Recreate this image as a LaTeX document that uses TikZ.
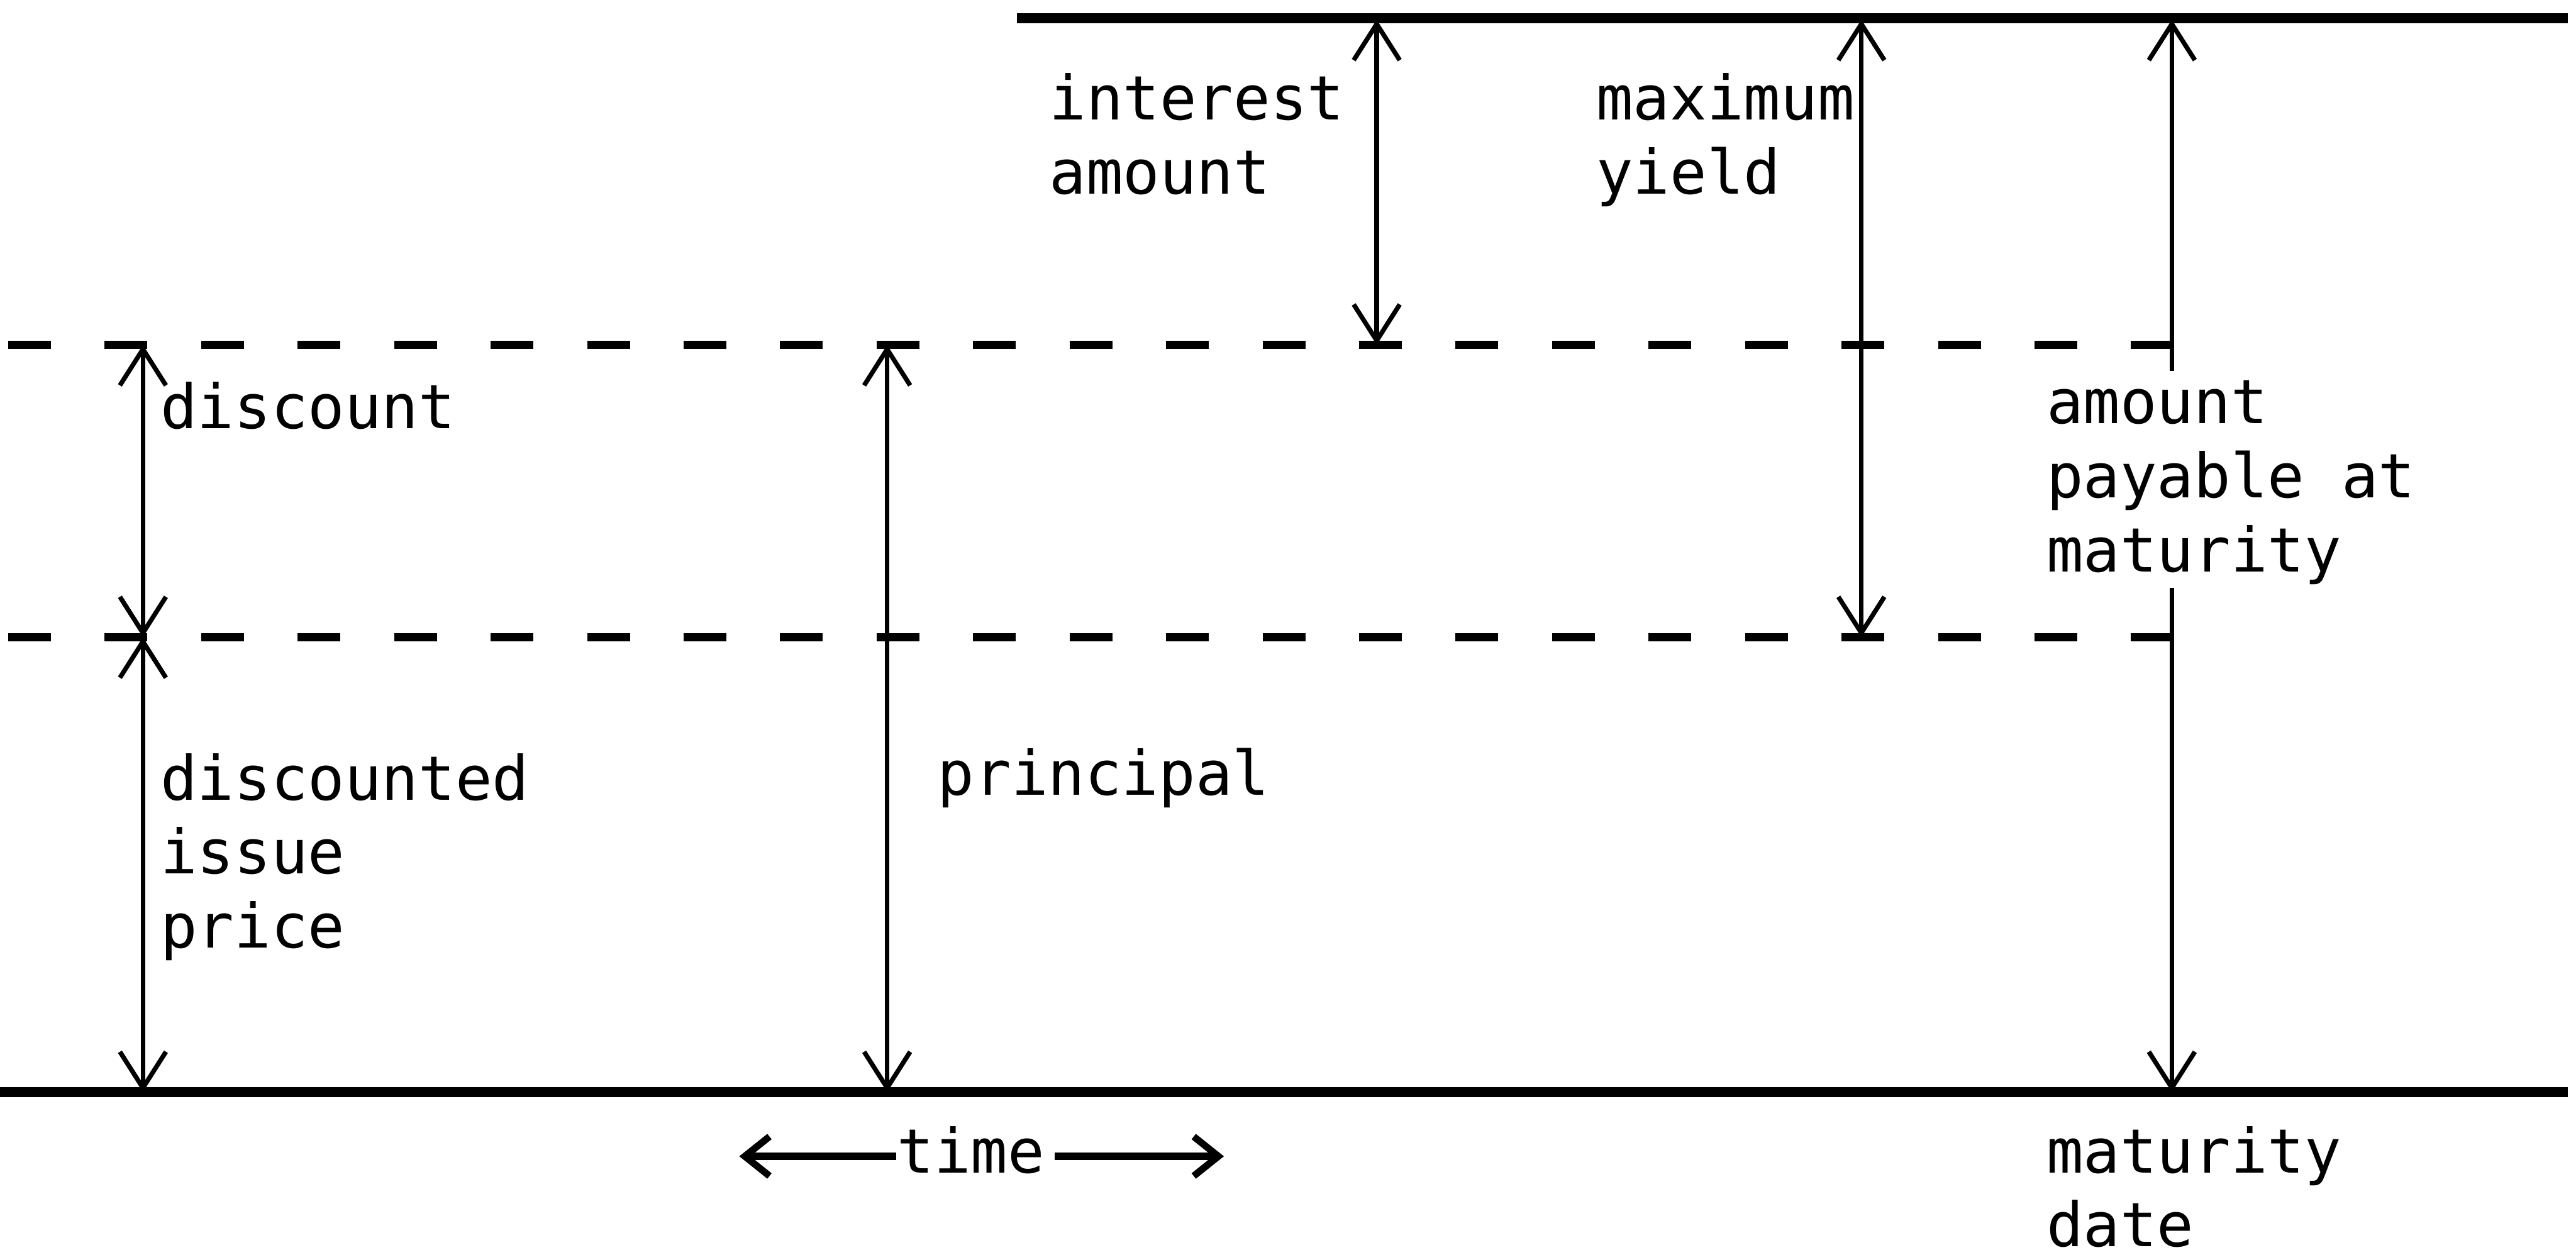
\documentclass[tikz,border=0pt]{standalone}
\usepackage{fontspec}
\newfontfamily\tw{DejaVu Sans Mono}
\usetikzlibrary{arrows.meta}
\begin{document}
\begin{tikzpicture}[x=0.01cm,y=-0.01cm,
  heavyline/.style={line width=1.7pt},
  dashline/.style={line width=1.5pt, dash pattern=on 0.26cm off 0.327cm},
  dimarrow/.style={line width=0.8pt, >={Straight Barb[length=2.2mm,width=2.8mm]}},
  timearrow/.style={line width=1.2pt, >={Straight Barb[length=1.5mm,width=2.4mm]}},
  lbl/.style={anchor=base west, inner sep=0pt, font=\tw\fontsize{10.6pt}{12.8pt}\selectfont}]
\useasboundingbox (0,0) rectangle (1568,764);

% horizontal lines
\coordinate (topL) at (619,11);
\coordinate (topR) at (1563,11);
\coordinate (botL) at (0,665);
\coordinate (botR) at (1563,665);
\coordinate (dAL) at (5,210);
\coordinate (dAR) at (1322,210);
\coordinate (dBL) at (5,388);
\coordinate (dBR) at (1322,388);
\draw[heavyline] (topL) -- (topR);
\draw[heavyline] (botL) -- (botR);
\draw[dashline] (dAL) -- (dAR);
\draw[dashline] (dBL) -- (dBR);

% labels
\node[lbl] (interest) at (638,73) {\vtop{\hbox{interest}\hbox{amount}}};
\node[lbl] (maxyield) at (971,73) {\vtop{\hbox{maximum}\hbox{yield}}};
\node[lbl] (discount) at (97,261) {discount};
\node[lbl] (payable) at (1245,258) {\vtop{\hbox{amount}\hbox{payable at}\hbox{maturity}}};
\node[lbl] (issue) at (97,487) {\vtop{\hbox{discounted}\hbox{issue}\hbox{price}}};
\node[lbl] (principal) at (570,484) {principal};
\node[lbl] (matdate) at (1245,714) {\vtop{\hbox{maturity}\hbox{date}}};
\node[lbl, anchor=base] (time) at (591,714) {time};

% dimension arrows
\coordinate (discT) at (87,210);
\coordinate (discM) at (87,388);
\coordinate (discB) at (87,665);
\draw[dimarrow,<->] (discT) -- (discM);
\draw[dimarrow,<->] (discM) -- (discB);

\coordinate (prT) at (540,210);
\coordinate (prB) at (540,665);
\draw[dimarrow,<->] (prT) -- (prB);

\coordinate (inT) at (838,12);
\coordinate (inB) at (838,210);
\draw[dimarrow,<->] (inT) -- (inB);

\coordinate (myT) at (1133,12);
\coordinate (myB) at (1133,388);
\draw[dimarrow,<->] (myT) -- (myB);

\coordinate (apT) at (1322,12);
\coordinate (apG1) at (1322,226);
\coordinate (apG2) at (1322,358);
\coordinate (apB) at (1322,665);
\draw[dimarrow,<-] (apT) -- (apG1);
\draw[dimarrow,->] (apG2) -- (apB);

% time arrow
\coordinate (tL) at (450,704);
\coordinate (tR) at (745,704);
\draw[timearrow,->] (time.west |- tL) -- (tL);
\draw[timearrow,->] ([xshift=1.5pt]time.east |- tR) -- (tR);
\end{tikzpicture}
\end{document}
